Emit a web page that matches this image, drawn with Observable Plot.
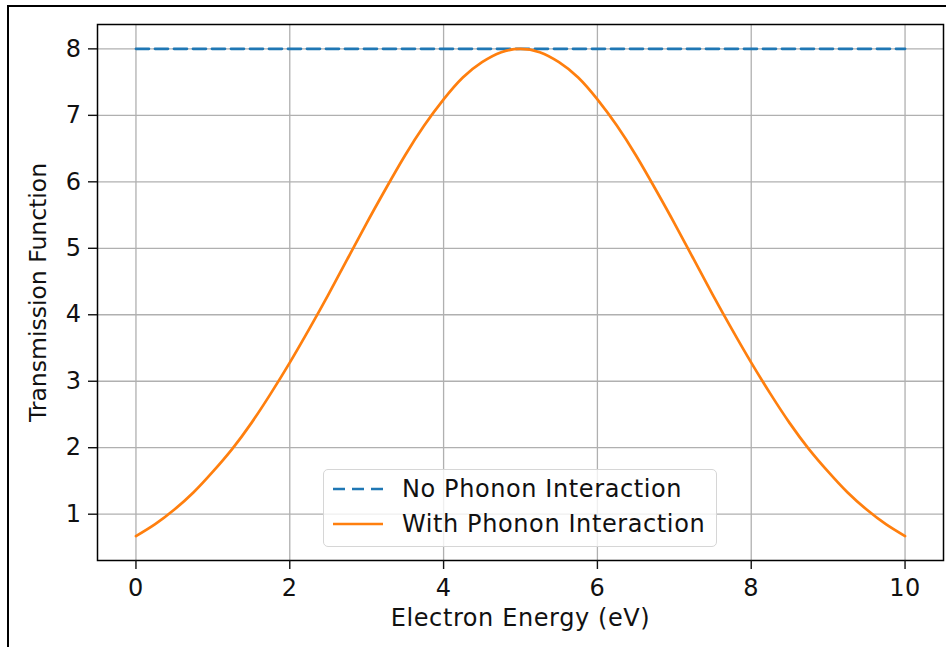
<!DOCTYPE html>
<html>
<head>
<meta charset="utf-8">
<script src="https://cdn.jsdelivr.net/npm/d3@7"></script>
<script src="https://cdn.jsdelivr.net/npm/@observablehq/plot@0.6"></script>
<style>
  html, body { margin: 0; padding: 0; background: #fff; }
  #wrap { position: relative; width: 946px; height: 647px; overflow: hidden; font-family: "DejaVu Sans", sans-serif; }
  #border { position: absolute; left: 7px; top: 5px; width: 960px; height: 700px; border-top: 2px solid #000; border-left: 2px solid #000; pointer-events: none; }
  #legend { position: absolute; left: 323px; top: 469px; width: 392px; height: 76px; border: 1px solid #d6d6d6; border-radius: 5px; background: rgba(255,255,255,0.8); }
  #legend .row { position: absolute; left: 0; height: 30px; display: flex; align-items: center; font-size: 24px; letter-spacing: 0.6px; color: #111; white-space: nowrap; }
  #legend svg { display: block; margin-left: 9px; margin-right: 19px; }
</style>
</head>
<body>
<div id="wrap">
  <div id="chart"></div>
  <div id="legend"></div>
  <div id="border"></div>
</div>
<script>
// Data
const energy = [0, 0.25, 0.5, 0.75, 1, 1.25, 1.5, 1.75, 2, 2.25, 2.5, 2.75, 3, 3.25, 3.5, 3.75, 4, 4.25, 4.5, 4.75, 5,
                5.25, 5.5, 5.75, 6, 6.25, 6.5, 6.75, 7, 7.25, 7.5, 7.75, 8, 8.25, 8.5, 8.75, 9, 9.25, 9.5, 9.75, 10];
const withPhonon = [0.67, 0.85, 1.07, 1.33, 1.64, 1.98, 2.37, 2.81, 3.28, 3.78, 4.30, 4.84, 5.38, 5.90, 6.40, 6.85, 7.24, 7.57, 7.80, 7.95, 8.00,
                    7.95, 7.80, 7.57, 7.24, 6.85, 6.40, 5.90, 5.38, 4.84, 4.30, 3.78, 3.28, 2.81, 2.37, 1.98, 1.64, 1.33, 1.07, 0.85, 0.67];
const noPhononEnergy = [0, 10];
const noPhonon = [8, 8];
const xTicks = [0, 2, 4, 6, 8, 10];
const yTicks = [1, 2, 3, 4, 5, 6, 7, 8];
const seriesNames = ["No Phonon Interaction", "With Phonon Interaction"];
const seriesColors = ["#1f77b4", "#ff7f0e"];
const xLabel = "Electron Energy (eV)";
const yLabel = "Transmission Function";

const withData = energy.map((e, i) => ({energy: e, t: withPhonon[i]}));
const noData = noPhononEnergy.map((e, i) => ({energy: e, t: noPhonon[i]}));

const chart = Plot.plot({
  width: 946,
  height: 647,
  marginLeft: 97,
  marginRight: 3,
  marginTop: 24,
  marginBottom: 87,
  style: {fontFamily: "DejaVu Sans", fontSize: "24px", color: "#111", background: "transparent", letterSpacing: "0.6px"},
  x: {domain: [-0.5, 10.5]},
  y: {domain: [0.3035, 8.3665]},
  marks: [
    Plot.gridX(xTicks, {stroke: "#b0b0b0", strokeOpacity: 1, strokeWidth: 1.3}),
    Plot.gridY(yTicks, {stroke: "#b0b0b0", strokeOpacity: 1, strokeWidth: 1.3}),
    Plot.line(noData, {x: "energy", y: "t", stroke: seriesColors[0], strokeWidth: 2.7, strokeDasharray: "13,6"}),
    Plot.line(withData, {x: "energy", y: "t", stroke: seriesColors[1], strokeWidth: 2.7, curve: "natural"}),
    Plot.frame({stroke: "#000", strokeWidth: 1.5}),
    Plot.axisX(xTicks, {tickSize: 9, tickPadding: 9, label: null, strokeWidth: 1.4, tickFormat: d => String(d)}),
    Plot.axisY(yTicks, {tickSize: 9, tickPadding: 7, label: null, strokeWidth: 1.4, tickFormat: d => String(d)}),
    Plot.text([xLabel], {text: d => d, frameAnchor: "bottom", dy: 65, lineAnchor: "bottom"}),
    Plot.text([yLabel], {text: d => d, frameAnchor: "left", textAnchor: "middle", rotate: -90, dx: -52, lineAnchor: "bottom", fontSize: 23.5})
  ]
});
document.getElementById("chart").appendChild(chart);
d3.select(chart).selectAll("text").filter(function() { return this.textContent === yLabel; }).style("letter-spacing", "0px");

// Legend
const legend = d3.select("#legend");
const tops = [4, 39];
seriesNames.forEach((name, i) => {
  const row = legend.append("div").attr("class", "row").style("top", tops[i] + "px");
  const s = row.append("svg").attr("width", 50).attr("height", 10);
  s.append("line").attr("x1", 0).attr("x2", 50).attr("y1", 5).attr("y2", 5)
    .attr("stroke", seriesColors[i]).attr("stroke-width", 2.7)
    .attr("stroke-dasharray", i === 0 ? "12,7" : null);
  row.append("span").text(name);
});
</script>
</body>
</html>
